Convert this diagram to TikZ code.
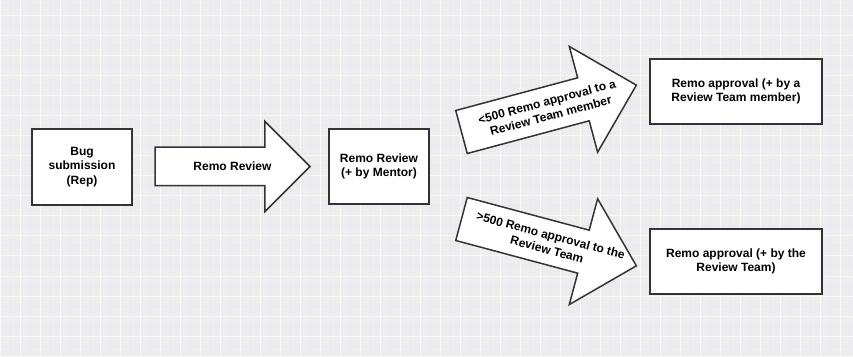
\documentclass[tikz,border=0pt]{standalone}
\usepackage{fontspec}
\setmainfont{Liberation Sans}
\usetikzlibrary{shapes.arrows, calc}
\definecolor{gridbg}{RGB}{237,237,237}
\definecolor{gridminor}{RGB}{231,231,248}
\definecolor{gridmajor}{RGB}{248,248,248}
\definecolor{stroke}{RGB}{51,51,51}
\tikzset{
  stagebox/.style={
    rectangle, draw=stroke, line width=1.5pt, fill=white,
    inner sep=0pt, align=center, font=\bfseries\fontsize{12}{14.5}\selectfont
  },
  flow/.style={
    single arrow, draw=stroke, line width=1.5pt, fill=white,
    inner sep=0pt, outer sep=0pt, single arrow head indent=0pt, anchor=tail
  },
  flowtext/.style={align=center, font=\bfseries\fontsize{12}{14.5}\selectfont},
}

\begin{document}
\begin{tikzpicture}[x=1pt, y=1pt]
  \useasboundingbox (0,0) rectangle (853,356);
  % grid paper
  \fill[gridbg] (0,0) rectangle (853,356);
  \foreach \x in {10,30,...,850} \draw[gridminor, line width=1pt] (\x,0) -- (\x,356);
  \foreach \y in {10,30,...,350} \draw[gridminor, line width=1pt] (0,\y) -- (853,\y);
  \foreach \x in {0,20,...,840} \draw[gridmajor, line width=1pt] (\x,0) -- (\x,356);
  \foreach \y in {0,20,...,340} \draw[gridmajor, line width=1pt] (0,\y) -- (853,\y);

  % stages
  \node[stagebox, minimum width=100pt, minimum height=76pt] (bug) at (82,189) {Bug\\submission\\(Rep)};
  \node[stagebox, minimum width=100pt, minimum height=75pt] (mentor) at (379,189.5) {Remo Review\\(+ by Mentor)};
  \node[stagebox, minimum width=172pt, minimum height=65pt] (member) at (736,264.5) {Remo approval (+ by a\\Review Team member)};
  \node[stagebox, minimum width=172pt, minimum height=65pt] (team) at (736,94.5) {Remo approval (+ by the\\Review Team)};

  % arrows
  \node[flow, minimum height=155pt, inner ysep=18.5pt, minimum width=89pt,
        single arrow head extend=26pt] (review) at (155,189.5) {};
  \node[flowtext] (reviewtext) at ($(review.tail)!0.5!(review.tip)$) {Remo Review};

  \node[flow, rotate=15, minimum height=181pt, inner ysep=21.5pt, minimum width=108pt,
        single arrow head extend=32.5pt] (small) at (461.5,224) {};
  \node[flowtext, rotate=15] (smalltext) at ($(small.tail)!0.5!(small.tip)$) {<500 Remo approval to a\\Review Team member};

  \node[flow, rotate=-15, minimum height=181pt, inner ysep=21.5pt, minimum width=108pt,
        single arrow head extend=32.5pt] (large) at (461.5,137) {};
  \node[flowtext, rotate=-15] (largetext) at ($(large.tail)!0.5!(large.tip)$) {>500 Remo approval to the\\Review Team};
\end{tikzpicture}
\end{document}
